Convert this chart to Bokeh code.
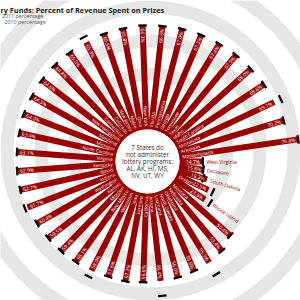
import numpy as np
from bokeh.plotting import figure
from bokeh.models import Range1d
from bokeh.core.properties import value
from bokeh.embed import file_html
from bokeh.resources import INLINE

# ---------------- data ----------------
states = ["West Virginia", "Delaware", "South Dakota", "Oregon", "Rhode Island",
          "Montana", "Nebraska", "Oklahoma", "North Dakota", "Louisiana",
          "Arizona", "California", "Vermont", "Iowa", "Wisconsin",
          "New Mexico", "Missouri", "Kansas", "Washington", "Indiana",
          "Illinois", "Kentucky", "Virginia", "North Carolina", "Michigan",
          "Maryland", "New Hampshire", "Connecticut", "Colorado", "New Jersey",
          "Maine", "Ohio", "New York", "Florida", "Pennsylvania",
          "Georgia", "Tennessee", "Texas", "Idaho", "South Carolina",
          "Minnesota", "Arkansas", "Massachusetts"]
pct_2011 = [14.7, 15.8, 19.3, 22.5, 23.6,
            50.4, 53.4, 55.3, 55.6, 56.0,
            56.4, 56.6, 57.2, 57.6, 58.0,
            58.1, 59.4, 59.5, 60.4, 61.7,
            62.7, 62.9, 63.1, 63.4, 64.0,
            64.3, 64.6, 64.8, 65.0, 65.3,
            65.5, 65.8, 66.3, 66.5, 67.0,
            67.3, 67.4, 67.9, 68.0, 68.6,
            69.1, 70.2, 76.8]
pct_2010 = [15.0, 15.6, 16.8, 25.6, 27.6,
            50.6, 53.9, 64.1, 55.8, 56.3,
            66.0, 56.9, 57.5, 57.4, 62.2,
            58.6, 59.2, 59.8, 60.7, 63.5,
            63.0, 63.2, 63.3, 63.6, 64.4,
            64.5, 64.9, 65.1, 65.2, 68.9,
            65.8, 66.0, 66.6, 66.7, 67.2,
            67.5, 67.7, 68.1, 68.3, 68.9,
            73.7, 70.5, 77.0]
center_lines = ["7 States do", "not administer", "lottery programs:",
                "AL, AK, HI, MS,", "NV, UT, WY"]
title_text = "ry Funds: Percent of Revenue Spent on Prizes"
legend_labels = ["2011 percentage", "2010 percentage"]

# ---------------- geometry / style ----------------
W = H = 300
cx, cy = 147, 161          # bar centre in screen pixels (from top-left)
r0 = 32.0                  # inner radius (0 %)
k = 1.562                  # pixels per percentage point
RED = "#990000"
ring_cx, ring_cy = 150, 150                     # background rings centre (screen)
ring_inner = [37, 70, 103, 137, 170]
ring_outer = [50, 83, 116, 150, 184]

def rad(v):
    return r0 + k * np.asarray(v, dtype=float)

n = len(states)
theta = np.arange(n) * 2 * np.pi / n        # clockwise on screen from 3 o'clock
c = np.cos(theta)
s = -np.sin(theta)                           # data y is up
re = rad(pct_2011)
r10 = rad(pct_2010)

p = figure(width=W, height=H, x_range=Range1d(-cx, W - cx),
           y_range=Range1d(-(H - cy), cy), output_backend="svg",
           toolbar_location=None, min_border=0,
           x_axis_location=None, y_axis_location=None)
p.grid.visible = False
p.outline_line_color = None
p.background_fill_color = "white"
p.border_fill_color = "white"

# background rings
p.annulus(x=ring_cx - cx, y=cy - ring_cy, inner_radius=ring_inner,
          outer_radius=ring_outer, fill_color="#e6e6e6", line_color=None)

# bars
p.segment(x0=r0 * c, y0=r0 * s, x1=re * c, y1=re * s,
          line_color=RED, line_width=6, line_cap="butt")

# centre disc
p.circle(x=[0], y=[0], radius=r0, fill_color="white", line_color=None)

# 2010 markers (perpendicular ticks)
px, py = -s, c
hl = 4.3
p.segment(x0=r10 * c - hl * px, y0=r10 * s - hl * py,
          x1=r10 * c + hl * px, y1=r10 * s + hl * py,
          line_color="black", line_width=2.2, line_cap="butt")

right = c >= 0
ang = np.where(right, -theta, -theta + np.pi)

# value labels
rl = re - 2.5
p.text(x=rl * c, y=rl * s, text=[f"{v:.1f}%" for v in pct_2011], angle=ang,
       text_align=["right" if r else "left" for r in right],
       text_baseline="middle", text_font=value("Open Sans"),
       text_font_size="5px", text_color="white")

# state names
name_w = np.array([len(nm) * 2.5 for nm in states])
outside = (name_w + 20) > (re - r0)
ins = ~outside
rin = r0 + 3
p.text(x=(rin * c)[ins], y=(rin * s)[ins],
       text=[nm for nm, o in zip(states, outside) if not o],
       angle=ang[ins],
       text_align=["left" if r else "right" for r in right[ins]],
       text_baseline="middle", text_font=value("Open Sans"),
       text_font_size="4.6px", text_color="white")
rout = np.maximum(re, r10) + 3.5
p.text(x=(rout * c)[outside], y=(rout * s)[outside],
       text=[nm for nm, o in zip(states, outside) if o], angle=ang[outside],
       text_align="left", text_baseline="middle", text_font=value("Open Sans"),
       text_font_size="5px", text_color=RED)

# centre text
p.text(x=[0] * len(center_lines), y=[14 - 7 * i for i in range(len(center_lines))],
       text=center_lines, text_align="center", text_baseline="middle",
       text_font=value("Open Sans"), text_font_size="6.3px", text_color="#333333")

# title and legend (cropped at left in the reference)
p.text(x=[-cx], y=[cy - 9.5], text=[title_text], text_align="left",
       text_baseline="alphabetic", text_font=value("Open Sans"),
       text_font_style="bold", text_font_size="7.3px", text_color="#222222")
p.text(x=[-cx + 1.5, -cx + 4], y=[cy - 15, cy - 21], text=legend_labels,
       text_align="left", text_baseline="middle", text_font=value("Open Sans"),
       text_font_size="5.3px", text_color="#555555")

open("out.html", "w").write(file_html(p, INLINE))
